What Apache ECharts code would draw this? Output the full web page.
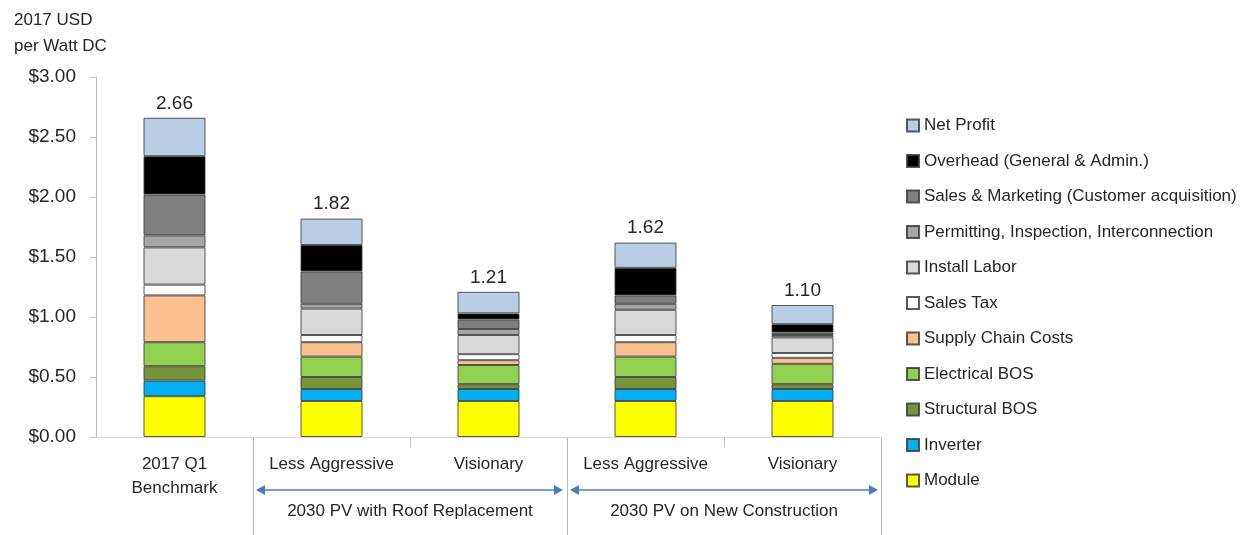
<!DOCTYPE html>
<html>
<head>
<meta charset="utf-8">
<script src="https://cdn.jsdelivr.net/npm/echarts@6/dist/echarts.min.js"></script>
<style>
  html, body { margin: 0; padding: 0; background: #ffffff; }
  #chart { width: 1251px; height: 535px; }
</style>
</head>
<body>
<div id="chart"></div>
<script>
// Residential PV system cost breakdown, 2017 USD per Watt DC
const categories = ['2017 Q1\nBenchmark', 'Less Aggressive', 'Visionary', 'Less Aggressive', 'Visionary'];
const groupLabels = ['2030 PV with Roof Replacement', '2030 PV on New Construction'];
const yTicks = [0, 0.5, 1, 1.5, 2, 2.5, 3];

// Cost components, stacked bottom to top
const module         = [0.34, 0.30, 0.30, 0.30, 0.30];
const inverter       = [0.13, 0.10, 0.10, 0.10, 0.10];
const structuralBOS  = [0.12, 0.10, 0.04, 0.10, 0.04];
const electricalBOS  = [0.20, 0.17, 0.16, 0.17, 0.17];
const supplyChain    = [0.39, 0.12, 0.04, 0.12, 0.05];
const salesTax       = [0.09, 0.06, 0.05, 0.06, 0.04];
const installLabor   = [0.31, 0.22, 0.16, 0.21, 0.13];
const permitting     = [0.10, 0.04, 0.05, 0.05, 0.02];
const salesMarketing = [0.34, 0.27, 0.08, 0.07, 0.02];
const overhead       = [0.32, 0.22, 0.05, 0.23, 0.07];
const netProfit      = [0.32, 0.22, 0.18, 0.21, 0.16];

const components = [
  { name: 'Module', data: module, color: '#ffff00' },
  { name: 'Inverter', data: inverter, color: '#00b0f0' },
  { name: 'Structural BOS', data: structuralBOS, color: '#77933c' },
  { name: 'Electrical BOS', data: electricalBOS, color: '#92d050' },
  { name: 'Supply Chain Costs', data: supplyChain, color: '#fac090' },
  { name: 'Sales Tax', data: salesTax, color: '#ffffff' },
  { name: 'Install Labor', data: installLabor, color: '#d9d9d9' },
  { name: 'Permitting, Inspection, Interconnection', data: permitting, color: '#a6a6a6' },
  { name: 'Sales & Marketing (Customer acquisition)', data: salesMarketing, color: '#7f7f7f' },
  { name: 'Overhead (General & Admin.)', data: overhead, color: '#000000' },
  { name: 'Net Profit', data: netProfit, color: '#b9cde5' }
];

const totals = categories.map((_, i) => components.reduce((s, c) => s + c.data[i], 0));

const FONT = '"Liberation Sans", Arial, sans-serif';
const TEXT = '#262626';

const series = components.map((c, k) => ({
  name: c.name,
  type: 'bar',
  stack: 'cost',
  barWidth: 62,
  data: c.data,
  itemStyle: { color: c.color, borderColor: 'rgba(60,60,60,0.85)', borderWidth: 1 },
  emphasis: { disabled: true },
  label: k === components.length - 1 ? {
    show: true,
    position: 'top',
    distance: 5,
    fontFamily: FONT,
    fontSize: 19,
    color: TEXT,
    formatter: p => totals[p.dataIndex].toFixed(2)
  } : { show: false }
}));

const option = {
  animation: false,
  backgroundColor: '#ffffff',
  title: {
    text: '2017 USD\nper Watt DC',
    left: 9,
    top: 2,
    textStyle: { fontFamily: FONT, fontSize: 17, fontWeight: 'normal', color: TEXT, lineHeight: 26 }
  },
  grid: { left: 96, right: 370, top: 77, bottom: 98, containLabel: false },
  legend: {
    orient: 'vertical',
    left: 901,
    top: 112,
    itemWidth: 12,
    itemHeight: 12,
    itemGap: 18.5,
    icon: 'rect',
    textStyle: { fontFamily: FONT, fontSize: 17, color: TEXT, lineHeight: 17 },
    data: components.map(c => c.name).reverse()
  },
  xAxis: {
    type: 'category',
    data: categories,
    axisLine: { show: true, lineStyle: { color: '#d9d9d9', width: 1 } },
    axisTick: { show: false },
    axisLabel: { fontFamily: FONT, fontSize: 17, color: TEXT, lineHeight: 24, margin: 15, interval: 0 }
  },
  yAxis: {
    type: 'value',
    min: 0,
    max: 3,
    interval: 0.5,
    splitLine: { show: false },
    axisLine: { show: true, lineStyle: { color: '#bfbfbf', width: 1 } },
    axisTick: { show: true, length: 6, lineStyle: { color: '#bfbfbf' } },
    axisLabel: {
      fontFamily: FONT, fontSize: 19, color: TEXT, margin: 20,
      formatter: v => '$' + v.toFixed(2)
    }
  },
  series: series
};

const chart = echarts.init(document.getElementById('chart'));
chart.setOption(option);

// Group separators, arrows and group captions under the category axis
const px = i => chart.convertToPixel({ xAxisIndex: 0 }, i);
const baseY = chart.convertToPixel({ yAxisIndex: 0 }, 0);
const band = px(1) - px(0);
const edge = i => px(0) + band * (i - 0.5);

const SEP = '#a9bbdb';
const ARROW = '#4a7ebb';
const arrowY = 490;
const captionY = 511;
const elements = [];

[1, 3, 5].forEach(i => {
  const x = Math.round(edge(i)) + 0.5;
  elements.push({ type: 'line', shape: { x1: x, y1: baseY, x2: x, y2: 535 }, style: { stroke: SEP, lineWidth: 1 }, silent: true });
});
[2, 4].forEach(i => {
  const x = Math.round(edge(i)) + 0.5;
  elements.push({ type: 'line', shape: { x1: x, y1: baseY, x2: x, y2: baseY + 10 }, style: { stroke: '#bfbfbf', lineWidth: 1 }, silent: true });
});

function arrow(x1, x2, y) {
  const h = 9, w = 5;
  elements.push({ type: 'line', shape: { x1: x1 + h, y1: y, x2: x2 - h, y2: y }, style: { stroke: ARROW, lineWidth: 1.5 }, silent: true });
  elements.push({ type: 'polygon', shape: { points: [[x1, y], [x1 + h, y - w], [x1 + h, y + w]] }, style: { fill: ARROW }, silent: true });
  elements.push({ type: 'polygon', shape: { points: [[x2, y], [x2 - h, y - w], [x2 - h, y + w]] }, style: { fill: ARROW }, silent: true });
}
arrow(edge(1) + 3, edge(3) - 4, arrowY);
arrow(edge(3) + 3, edge(5) - 3, arrowY);

groupLabels.forEach((t, g) => {
  const cx = (edge(1 + 2 * g) + edge(3 + 2 * g)) / 2;
  elements.push({
    type: 'text', x: cx, y: captionY, silent: true,
    style: { text: t, fontFamily: FONT, fontSize: 17, fill: TEXT, align: 'center', verticalAlign: 'middle' }
  });
});

chart.setOption({ graphic: { elements: elements } });
</script>
</body>
</html>
